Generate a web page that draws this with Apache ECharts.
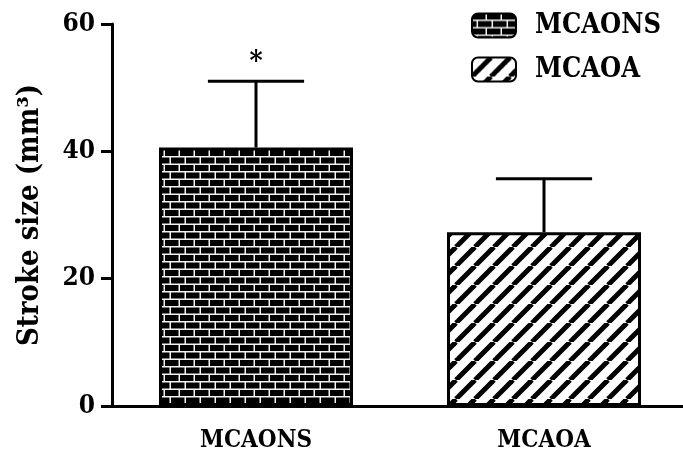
<!DOCTYPE html>
<html>
<head>
<meta charset="utf-8">
<script src="https://cdn.jsdelivr.net/npm/echarts@6/dist/echarts.min.js"></script>
<style>html,body{margin:0;padding:0;background:#fff;overflow:hidden}#c{width:690px;height:453px}</style>
</head>
<body>
<div id="c"></div>
<script>
var categories = ['MCAONS', 'MCAOA'];
var seriesNames = ['MCAONS', 'MCAOA'];
var means = [40.6, 27.3];
var errorTops = [51.0, 35.7];
var sigMarks = ['*', ''];
var yTicks = [0, 20, 40, 60];
var yTitle = 'Stroke size (mm³)';

var FONT = '"DejaVu Serif Condensed", "DejaVu Serif"';

function brickPattern() {
  var c = document.createElement('canvas');
  c.width = 15; c.height = 15;
  var g = c.getContext('2d');
  g.fillStyle = '#f4f4f4'; g.fillRect(0, 0, 15, 15);
  g.fillStyle = '#000';
  g.fillRect(0, 0, 13.5, 6);
  g.fillRect(6, 7.5, 13.5, 6);
  g.fillRect(-9, 7.5, 13.5, 6);
  return c;
}
function stripePattern() {
  var p = 19;
  var c = document.createElement('canvas');
  c.width = p; c.height = p;
  var g = c.getContext('2d');
  g.fillStyle = '#fff'; g.fillRect(0, 0, p, p);
  g.strokeStyle = '#000'; g.lineWidth = 5;
  for (var k = -1; k <= 1; k++) {
    g.beginPath(); g.moveTo(k * p, p); g.lineTo(k * p + p, 0); g.stroke();
  }
  return c;
}
var patterns = [brickPattern(), stripePattern()];

var chart = echarts.init(document.getElementById('c'));

var barSeries = seriesNames.map(function (name, i) {
  return {
    name: name,
    type: 'bar',
    barWidth: 194,
    barGap: '-100%',
    data: categories.map(function (_, j) { return j === i ? means[j] : '-'; }),
    itemStyle: {
      color: { image: patterns[i], repeat: 'repeat' },
      borderColor: '#000',
      borderWidth: 3
    },
    z: 2
  };
});

var errData = categories.map(function (_, j) { return [j, means[j], errorTops[j], sigMarks[j]]; });

var option = {
  animation: false,
  backgroundColor: '#fff',
  grid: { left: 112, top: 24, bottom: 44, right: 2, containLabel: false },
  legend: {
    orient: 'vertical',
    left: 466,
    top: 7,
    itemWidth: 44,
    itemHeight: 24,
    itemGap: 17,
    icon: 'roundRect',
    textStyle: { fontFamily: FONT, fontWeight: 'bold', fontSize: 27, color: '#000', padding: [0, 0, 0, 14] },
    data: seriesNames
  },
  xAxis: {
    type: 'category',
    data: categories,
    axisLine: { lineStyle: { color: '#000', width: 3 } },
    axisTick: { alignWithLabel: true, length: 11, lineStyle: { color: '#000', width: 3 } },
    axisLabel: { fontFamily: FONT, fontWeight: 'bold', fontSize: 24, color: '#000', margin: 23 }
  },
  yAxis: {
    type: 'value',
    min: yTicks[0],
    max: yTicks[yTicks.length - 1],
    interval: yTicks[1] - yTicks[0],
    name: yTitle,
    nameLocation: 'middle',
    nameGap: 67,
    nameTextStyle: { fontFamily: FONT, fontWeight: 'bold', fontSize: 29, color: '#000' },
    axisLine: { show: true, lineStyle: { color: '#000', width: 3 } },
    axisTick: { show: true, length: 11, lineStyle: { color: '#000', width: 3 } },
    axisLabel: { fontFamily: FONT, fontWeight: 'bold', fontSize: 26, color: '#000', margin: 17 },
    splitLine: { show: false }
  },
  series: barSeries.concat([{
    type: 'custom',
    name: 'err',
    z: 1,
    data: errData,
    renderItem: function (params, api) {
      var j = api.value(0);
      var base = api.coord([j, api.value(1)]);
      var top = api.coord([j, api.value(2)]);
      var half = api.size([1, 0])[0] * 0.167;
      var children = [
        { type: 'line', shape: { x1: top[0], y1: base[1], x2: top[0], y2: top[1] }, style: { stroke: '#000', lineWidth: 3 } },
        { type: 'line', shape: { x1: top[0] - half, y1: top[1], x2: top[0] + half, y2: top[1] }, style: { stroke: '#000', lineWidth: 3 } }
      ];
      var mark = sigMarks[j];
      if (mark) {
        children.push({ type: 'text', style: { text: mark, x: top[0], y: top[1] - 5, align: 'center', verticalAlign: 'bottom', font: 'bold 28px ' + FONT, fill: '#000' } });
      }
      return { type: 'group', children: children };
    }
  }])
};
chart.setOption(option);
</script>
</body>
</html>
